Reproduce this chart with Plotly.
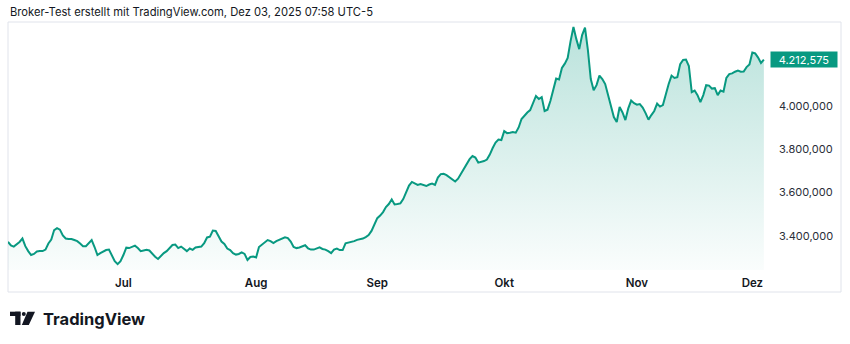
import numpy as np
import pandas as pd
import plotly.graph_objects as go

# Gold spot, two samples per trading session (Jun 3 – Dec 3, 2025)
session_start = "2025-06-03"
session_end = "2025-12-03"
prices = [
    3373, 3356, 3351, 3360, 3372, 3388, 3353, 3330, 3312, 3317,
    3328, 3330, 3330, 3337, 3365, 3383, 3427, 3436, 3429, 3402,
    3388, 3386, 3386, 3381, 3376, 3365, 3353, 3353, 3367, 3381,
    3349, 3312, 3321, 3328, 3335, 3337, 3307, 3284, 3270, 3284,
    3312, 3346, 3344, 3351, 3355, 3344, 3330, 3333, 3336, 3333,
    3317, 3304, 3294, 3310, 3321, 3330, 3344, 3358, 3360, 3344,
    3351, 3340, 3330, 3342, 3336, 3347, 3349, 3351, 3367, 3393,
    3397, 3425, 3423, 3400, 3374, 3363, 3342, 3335, 3321, 3314,
    3317, 3324, 3317, 3289, 3303, 3305, 3301, 3349, 3360, 3372,
    3381, 3376, 3367, 3376, 3383, 3390, 3394, 3390, 3374, 3349,
    3344, 3347, 3351, 3357, 3343, 3337, 3337, 3341, 3347, 3340,
    3337, 3330, 3321, 3337, 3342, 3335, 3335, 3366, 3369, 3373,
    3376, 3382, 3384, 3388, 3395, 3404, 3423, 3450, 3482, 3494,
    3510, 3533, 3547, 3568, 3545, 3547, 3550, 3570, 3602, 3632,
    3649, 3643, 3635, 3639, 3635, 3630, 3637, 3641, 3635, 3669,
    3685, 3686, 3680, 3669, 3658, 3651, 3664, 3685, 3708, 3729,
    3754, 3768, 3761, 3738, 3740, 3745, 3752, 3775, 3805, 3830,
    3844, 3842, 3883, 3874, 3876, 3879, 3876, 3900, 3939, 3955,
    3969, 3980, 4017, 4045, 4031, 4040, 3976, 3982, 4022, 4077,
    4125, 4121, 4174, 4194, 4220, 4298, 4363, 4307, 4261, 4326,
    4360, 4257, 4123, 4072, 4095, 4139, 4123, 4100, 4045, 3992,
    3948, 3925, 3994, 3969, 3934, 3988, 4024, 4012, 4005, 4008,
    3992, 3966, 3936, 3957, 3976, 4010, 3996, 4003, 4054, 4100,
    4139, 4128, 4132, 4192, 4211, 4213, 4183, 4063, 4070, 4049,
    4017, 4049, 4095, 4093, 4079, 4081, 4049, 4070, 4065, 4128,
    4146, 4149, 4157, 4162, 4157, 4158, 4178, 4190, 4245, 4241,
    4222, 4197, 4212.575,
]
month_labels = ["Jul", "Aug", "Sep", "Okt", "Nov", "Dez"]
price_ticks = [3400, 3600, 3800, 4000]
title_text = "Broker-Test erstellt mit TradingView.com, Dez 03, 2025 07:58 UTC-5"

# Trading-day axis: weekends are skipped, so positions count sessions
days = pd.bdate_range(session_start, session_end)
x = np.arange(len(prices)) / 2.0
month_starts = days.to_series().groupby([days.year, days.month]).first()
tick_pos = [int(days.get_loc(d)) for d in month_starts.values[1:]]

LINE = "#089981"
W, H = 850, 344
L, R, T, B = 8, 770, 22, 270  # plot area in pixels
Y_LO, Y_HI = 3243, 4386


def px(xp):
    return (xp - L) / (R - L)


def py(yp):
    return (B - yp) / (B - T)


def de_number(v):
    return f"{v:,.3f}".replace(",", "X").replace(".", ",").replace("X", ".")


fig = go.Figure()
fig.add_trace(go.Scatter(x=[x[0], x[-1]], y=[Y_LO, Y_LO], mode="lines",
                         line=dict(width=0), hoverinfo="skip", showlegend=False))
fig.add_trace(go.Scatter(
    x=x, y=prices, mode="lines", fill="tonexty",
    line=dict(color=LINE, width=2),
    fillgradient=dict(type="vertical", start=Y_LO, stop=max(prices),
                      colorscale=[[0, "rgba(8,153,129,0.02)"], [1, "rgba(8,153,129,0.28)"]]),
    hoverinfo="skip", showlegend=False,
))

fig.update_xaxes(range=[0, (R - L) / 5.77], showgrid=False, zeroline=False, showline=False,
                 tickvals=tick_pos, ticktext=month_labels, ticks="",
                 tickfont=dict(family="Inter", size=11.5, color="#131722", weight=600),
                 ticklabelstandoff=4, fixedrange=True)
fig.update_yaxes(range=[Y_LO, Y_HI], side="right", showgrid=False, zeroline=False,
                 showline=False, tickvals=price_ticks, tickformat=",.3f", ticks="",
                 tickfont=dict(family="Inter", size=11, color="#2a2e39"),
                 ticklabelstandoff=8, fixedrange=True)

shapes = [
    # chart frame
    dict(type="rect", xref="paper", yref="paper", x0=px(8), x1=px(841), y0=py(292), y1=py(22),
         line=dict(color="#e0e3eb", width=1), fillcolor="rgba(0,0,0,0)", layer="below"),
    # logo glyph
    dict(type="rect", xref="paper", yref="paper", x0=px(10), x1=px(20.5), y0=py(316), y1=py(311.7),
         line=dict(width=0), fillcolor="#131722"),
    dict(type="rect", xref="paper", yref="paper", x0=px(15.2), x1=px(20.5), y0=py(325), y1=py(311.7),
         line=dict(width=0), fillcolor="#131722"),
    dict(type="circle", xref="paper", yref="paper", x0=px(21.8), x1=px(25.8), y0=py(316), y1=py(312),
         line=dict(width=0), fillcolor="#131722"),
    dict(type="path", xref="paper", yref="paper",
         path=f"M {px(27.5)} {py(311.7)} L {px(35)} {py(311.7)} L {px(28.8)} {py(325)} L {px(21.8)} {py(325)} Z",
         line=dict(width=0), fillcolor="#131722"),
]

annotations = [
    dict(text=title_text, xref="paper", yref="paper", x=px(8), y=py(12),
         xanchor="left", yanchor="middle", showarrow=False,
         font=dict(family="Inter", size=11.2, color="#131722")),
    dict(text="TradingView", xref="paper", yref="paper", x=px(40.5), y=py(318.5),
         xanchor="left", yanchor="middle", showarrow=False,
         font=dict(family="Inter", size=16.5, color="#131722", weight=700)),
    dict(text=de_number(prices[-1]),
         xref="paper", yref="y", x=1.0, y=prices[-1], xanchor="left", yanchor="middle",
         showarrow=False, bgcolor=LINE, borderpad=2, width=62, height=11,
         font=dict(family="Inter", size=11, color="white")),
]

fig.update_layout(
    width=W, height=H, margin=dict(l=L, r=W - R, t=T, b=H - B),
    paper_bgcolor="white", plot_bgcolor="white", separators=",.",
    shapes=shapes, annotations=annotations, showlegend=False,
)

fig.write_html("out.html")
